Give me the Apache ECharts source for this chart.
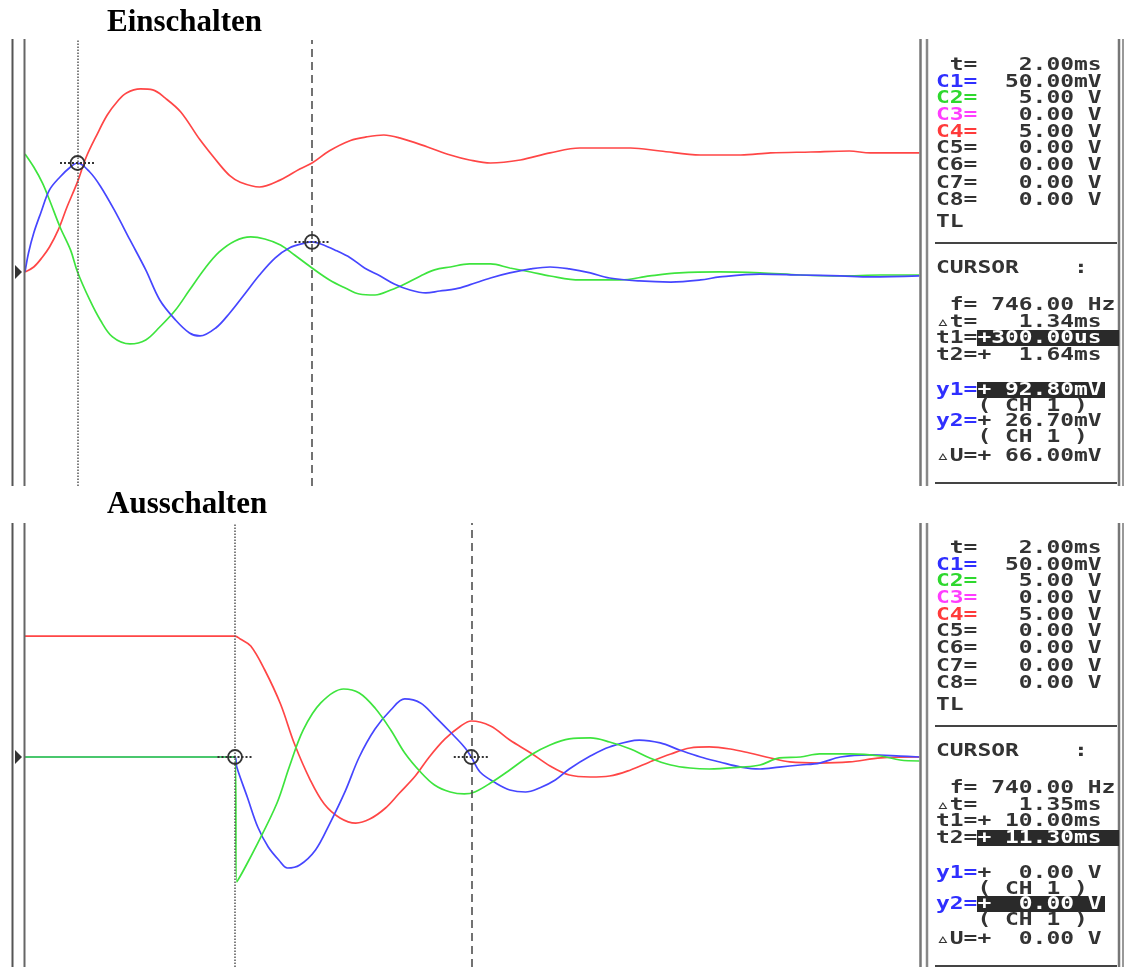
<!DOCTYPE html>
<html>
<head>
<meta charset="utf-8">
<title>Einschalten / Ausschalten</title>
<script src="https://cdn.jsdelivr.net/npm/echarts@6/dist/echarts.min.js"></script>
<style>
  html, body { margin: 0; padding: 0; background: #fff; }
  #main { width: 1128px; height: 967px; }
</style>
</head>
<body>
<div id="main"></div>
<script>
  // Einschalten: [t in ms, value]; C1 (blau) in mV, C2 (grün) und C4 (rot) in V
  var einRed = [[0, 0], [0.05, 0.41], [0.1, 1.24], [0.14, 2.06], [0.19, 3.47], [0.24, 5.36], [0.3, 7.43], [0.35, 9.49],
    [0.41, 11.3], [0.47, 12.95], [0.53, 14.11], [0.58, 14.77], [0.66, 15.1], [0.73, 15.02], [0.8, 14.36], [0.89, 13.2],
    [1.0, 10.9], [1.11, 8.9], [1.17, 7.95], [1.23, 7.4], [1.34, 7.01], [1.46, 7.6], [1.57, 8.5], [1.64, 8.99],
    [1.74, 10.0], [1.86, 10.85], [1.95, 11.14], [2.05, 11.3], [2.14, 11.06], [2.3, 10.31], [2.43, 9.65], [2.54, 9.24],
    [2.66, 8.99], [2.83, 9.24], [3.0, 9.82], [3.17, 10.23], [3.46, 10.23], [3.63, 9.98], [3.86, 9.65], [4.09, 9.65],
    [4.26, 9.82], [4.49, 9.9], [4.71, 9.98], [4.83, 9.82], [5.11, 9.82]];
  var einGreen = [[0, 9.74], [0.05, 8.66], [0.1, 7.34], [0.14, 5.94], [0.2, 3.71], [0.26, 1.82], [0.3, 0], [0.37, -2.31],
    [0.43, -3.96], [0.5, -5.36], [0.6, -5.94], [0.69, -5.61], [0.77, -4.54], [0.86, -3.14], [0.94, -1.49], [1.03, 0.33],
    [1.11, 1.65], [1.2, 2.56], [1.29, 2.89], [1.37, 2.72], [1.46, 2.23], [1.54, 1.4], [1.64, 0.33], [1.74, -0.66],
    [1.83, -1.32], [1.91, -1.82], [2.0, -1.9], [2.09, -1.49], [2.17, -0.99], [2.26, -0.33], [2.34, 0.17], [2.43, 0.41],
    [2.54, 0.66], [2.66, 0.66], [2.77, 0.33], [2.89, 0], [3.0, -0.33], [3.17, -0.66], [3.4, -0.66], [3.57, -0.33],
    [3.74, -0.08], [3.97, 0], [4.2, -0.08], [4.43, -0.25], [4.66, -0.33], [4.89, -0.25], [5.11, -0.25]];
  var einBlue = [[0, 0], [0.02, 15.7], [0.05, 32.2], [0.09, 48.7], [0.14, 67.7], [0.2, 78.4], [0.26, 86.6], [0.3, 89.9],
    [0.37, 82.5], [0.43, 71.0], [0.51, 51.2], [0.6, 26.4], [0.69, 1.7], [0.77, -23.1], [0.86, -39.6], [0.94, -50.3],
    [1.0, -52.8], [1.09, -46.2], [1.17, -33.8], [1.26, -17.3], [1.34, -2.5], [1.43, 11.6], [1.51, 19.8], [1.6, 23.9],
    [1.64, 24.8], [1.69, 23.1], [1.77, 18.2], [1.86, 11.6], [1.94, 3.3], [2.03, -3.3], [2.11, -9.9], [2.2, -14.9],
    [2.29, -17.3], [2.37, -15.7], [2.46, -14.0], [2.54, -10.7], [2.66, -5.0], [2.77, -0.8], [2.89, 2.5], [3.0, 4.1],
    [3.11, 2.5], [3.23, -0.8], [3.34, -5.0], [3.51, -7.4], [3.69, -8.3], [3.86, -6.6], [3.97, -4.1], [4.2, -1.7],
    [4.43, -2.5], [4.66, -3.3], [4.83, -4.1], [5.11, -3.3]];

  // Ausschalten
  var ausRed = [[8.8, 9.98], [10.0, 9.98], [10.03, 9.74], [10.09, 9.16], [10.17, 7.18], [10.26, 4.37], [10.34, 1.07],
    [10.43, -1.9], [10.51, -3.88], [10.6, -5.03], [10.69, -5.45], [10.77, -5.12], [10.86, -4.21], [10.94, -2.97],
    [11.03, -1.57], [11.11, 0], [11.2, 1.49], [11.29, 2.56], [11.35, 2.97], [11.46, 2.56], [11.57, 1.4], [11.69, 0.33],
    [11.8, -0.74], [11.91, -1.49], [12.03, -1.65], [12.14, -1.57], [12.26, -1.07], [12.37, -0.41], [12.49, 0.25],
    [12.6, 0.74], [12.71, 0.83], [12.83, 0.66], [12.94, 0.33], [13.06, -0.08], [13.17, -0.41], [13.34, -0.5],
    [13.51, -0.41], [13.69, -0.08], [13.91, 0]];
  var ausGreen = [[8.8, 0], [10.0, 0], [10.01, -10.31], [10.13, -7.1], [10.24, -3.8], [10.31, -0.83], [10.39, 2.23],
    [10.49, 4.46], [10.62, 5.61], [10.71, 5.28], [10.8, 4.04], [10.89, 2.23], [10.97, 0.33], [11.06, -1.24],
    [11.14, -2.31], [11.23, -2.89], [11.31, -3.05], [11.37, -2.89], [11.46, -2.15], [11.57, -1.07], [11.69, 0.17],
    [11.8, 0.99], [11.91, 1.49], [12.03, 1.57], [12.14, 1.24], [12.26, 0.66], [12.37, -0.08], [12.49, -0.66],
    [12.6, -0.91], [12.71, -0.99], [12.89, -0.83], [13.0, -0.66], [13.11, -0.08], [13.23, 0], [13.34, 0.25],
    [13.51, 0.25], [13.69, 0.08], [13.8, -0.25], [13.91, -0.33]];
  var ausBlue = [[8.8, 0], [10.0, 0], [10.01, -8.3], [10.07, -33.0], [10.13, -57.8], [10.19, -74.3], [10.25, -85.0],
    [10.3, -91.6], [10.37, -89.1], [10.46, -76.7], [10.54, -55.3], [10.63, -28.1], [10.71, 0], [10.8, 23.1],
    [10.89, 38.8], [10.97, 47.9], [11.06, 44.6], [11.14, 33.8], [11.23, 20.6], [11.31, 8.3], [11.35, 0], [11.4, -12.4],
    [11.49, -21.5], [11.57, -27.2], [11.66, -28.9], [11.74, -25.6], [11.83, -19.0], [11.91, -9.9], [12.03, 0.8],
    [12.14, 8.3], [12.31, 14.0], [12.43, 11.6], [12.54, 5.8], [12.66, 0], [12.77, -4.1], [12.89, -8.3], [13.0, -9.9],
    [13.11, -8.3], [13.23, -6.6], [13.34, -5.0], [13.46, 0], [13.63, 1.7], [13.8, 0.8], [13.91, 0]];

  // Cursor t1/t2 (ms) und Messpunkte auf C1
  var einCursor = [0.3, 1.64];
  var ausCursor = [10.0, 11.35];
  var einMarks = [[0.3, 89.9], [1.64, 24.8]];
  var ausMarks = [[10.0, 0], [11.35, 0]];

  // Anzeige rechts
  var chanLabels = [' t=', 'C1=', 'C2=', 'C3=', 'C4=', 'C5=', 'C6=', 'C7=', 'C8='];
  var chanValues = ['   2.00ms', '  50.00mV', '   5.00 V', '   0.00 V', '   5.00 V', '   0.00 V', '   0.00 V', '   0.00 V', '   0.00 V'];
  var einReadout = [' 746.00 Hz', '   1.34ms', '+300.00us', '+  1.64ms', '+ 92.80mV', '+ 26.70mV', '+ 66.00mV'];
  var ausReadout = [' 740.00 Hz', '   1.35ms', '+ 10.00ms', '+ 11.30ms', '+  0.00 V', '+  0.00 V', '+  0.00 V'];

  var RED = '#ff4646', GREEN = '#3ee43e', BLUE = '#4646ff';
  var labelColors = ['#333', '#2f2fff', '#2ed82e', '#ff3cff', '#ff3a3a', '#333', '#333', '#333', '#333'];

  var FONT = 'bold 18px "DejaVu Sans Mono"';
  var COL = 13.8, X0 = 936, SX = 1.273;

  function txt(col, y, s, color, align) {
    return {
      type: 'text', x: X0 + col * COL, y: y, scaleX: SX, z: 20,
      style: { text: s, x: 0, y: 0, fill: color || '#333', font: FONT,
        align: align || 'left', textAlign: align || 'left', verticalAlign: 'middle', textVerticalAlign: 'middle' }
    };
  }
  function line(x1, y1, x2, y2, color, w) {
    return { type: 'line', shape: { x1: x1, y1: y1, x2: x2, y2: y2 }, style: { stroke: color, lineWidth: w }, z: 10 };
  }
  function box(x1, x2, y) {
    return { type: 'rect', shape: { x: x1, y: y - 8, width: x2 - x1, height: 16 }, style: { fill: '#2a2a2a' }, z: 15 };
  }

  function panelGraphics(dy, plotTop, plotBottom, ground, readout, hiT, hiY) {
    var g = [];
    // Rahmen
    g.push(line(12.5, plotTop, 12.5, plotBottom, '#555', 2));
    g.push(line(24.5, plotTop, 24.5, plotBottom, '#666', 2));
    g.push(line(920.5, plotTop, 920.5, plotBottom, '#777', 2.5));
    g.push(line(927, plotTop, 927, plotBottom, '#888', 2.5));
    g.push(line(1119, plotTop, 1119, plotBottom, '#777', 2.5));
    g.push(line(1123, plotTop, 1123, plotBottom, '#999', 2));
    g.push({ type: 'polygon', shape: { points: [[15, ground - 7], [22, ground], [15, ground + 7]] }, style: { fill: '#333' }, z: 10 });
    // Kanäle
    var rowsY = [65, 82, 98, 115, 132, 148, 165, 183, 200];
    for (var i = 0; i < chanLabels.length; i++) {
      g.push(txt(0, rowsY[i] + dy, chanLabels[i], labelColors[i]));
      g.push(txt(3, rowsY[i] + dy, chanValues[i]));
    }
    g.push(txt(0, 222 + dy, 'TL'));
    g.push(line(935, 243 + dy, 1117, 243 + dy, '#444', 2));
    g.push(txt(0, 268 + dy, 'CURSOR    :'));
    g.push(txt(0, 305 + dy, ' f='));
    g.push(txt(3, 305 + dy, readout[0]));
    g.push(txt(0, 322 + dy, '\u25B5t='));
    g.push(txt(3, 322 + dy, readout[1]));
    // t1 / t2
    var tRows = [338, 355];
    for (var k = 0; k < 2; k++) {
      var yy = tRows[k] + dy;
      g.push(txt(0, yy, 't' + (k + 1) + '='));
      if (hiT === k) { g.push(box(977, 1119, yy)); g.push(txt(3, yy, readout[2 + k], '#fff')); }
      else g.push(txt(3, yy, readout[2 + k]));
    }
    // y1 / y2
    var yRows = [390, 421];
    for (var m = 0; m < 2; m++) {
      var y2 = yRows[m] + dy;
      g.push(txt(0, y2, 'y' + (m + 1) + '=', '#2f2fff'));
      if (hiY === m) { g.push(box(977, 1105, y2)); g.push(txt(3, y2, readout[4 + m], '#fff')); }
      else g.push(txt(3, y2, readout[4 + m]));
      g.push(txt(3, y2 + 16, '( CH 1 )'));
    }
    g.push(txt(0, 456 + dy, '\u25B5U='));
    g.push(txt(3, 456 + dy, readout[6]));
    g.push(line(935, 483 + dy, 1117, 483 + dy, '#444', 2));
    return g;
  }

  function cursorMarks(cur, marks) {
    return {
      markLine: {
        silent: true, symbol: ['none', 'none'], label: { show: false }, animation: false,
        lineStyle: { color: '#444', width: 1.5 },
        data: [
          { xAxis: cur[0], lineStyle: { type: 'dotted', color: '#555', width: 1.5 } },
          { xAxis: cur[1], lineStyle: { type: [8, 5], color: '#444', width: 1.5 } },
          [{ coord: [marks[0][0] - 0.1, marks[0][1]], lineStyle: { type: 'dotted', color: '#333', width: 2 } }, { coord: [marks[0][0] + 0.1, marks[0][1]] }],
          [{ coord: [marks[1][0] - 0.1, marks[1][1]], lineStyle: { type: 'dotted', color: '#333', width: 2 } }, { coord: [marks[1][0] + 0.1, marks[1][1]] }]
        ]
      },
      markPoint: {
        silent: true, symbol: 'circle', symbolSize: 14, label: { show: false }, animation: false,
        itemStyle: { color: 'rgba(255,255,255,0)', borderColor: '#333', borderWidth: 1.8 },
        data: [{ coord: marks[0] }, { coord: marks[1] }]
      }
    };
  }

  function trace(data, color, xi, yi, extra) {
    var s = {
      type: 'line', data: data, xAxisIndex: xi, yAxisIndex: yi,
      showSymbol: false, smooth: 0.35, animation: false, silent: true,
      lineStyle: { color: color, width: 1.7 }, itemStyle: { color: color }
    };
    if (extra) { s.markLine = extra.markLine; s.markPoint = extra.markPoint; }
    return s;
  }

  var myChart = echarts.init(document.getElementById('main'));
  var option = {
    backgroundColor: '#fff',
    title: [
      { text: 'Einschalten', left: 107, top: 7, padding: 0,
        textStyle: { fontFamily: 'Liberation Serif', fontWeight: 'bold', fontSize: 31, color: '#000' } },
      { text: 'Ausschalten', left: 107, top: 489, padding: 0,
        textStyle: { fontFamily: 'Liberation Serif', fontWeight: 'bold', fontSize: 31, color: '#000' } }
    ],
    grid: [
      { left: 25, top: 40, width: 895, height: 446 },
      { left: 25, top: 523, width: 895, height: 444 }
    ],
    xAxis: [
      { type: 'value', gridIndex: 0, min: 0, max: 5.114, show: false },
      { type: 'value', gridIndex: 1, min: 8.8, max: 13.914, show: false }
    ],
    yAxis: [
      { type: 'value', gridIndex: 0, min: -17.66, max: 19.14, show: false },
      { type: 'value', gridIndex: 0, min: -176.6, max: 191.4, show: false },
      { type: 'value', gridIndex: 1, min: -17.33, max: 19.31, show: false },
      { type: 'value', gridIndex: 1, min: -173.3, max: 193.1, show: false }
    ],
    series: [
      trace(einRed, RED, 0, 0),
      trace(einGreen, GREEN, 0, 0),
      trace(einBlue, BLUE, 0, 1, cursorMarks(einCursor, einMarks)),
      trace(ausRed, RED, 1, 2),
      trace(ausBlue, BLUE, 1, 3, cursorMarks(ausCursor, ausMarks)),
      trace(ausGreen, GREEN, 1, 2)
    ],
    graphic: panelGraphics(0, 39, 486, 272, einReadout, 0, 0)
      .concat(panelGraphics(483, 523, 967, 757, ausReadout, 1, 1))
  };
  myChart.setOption(option);
</script>
</body>
</html>
